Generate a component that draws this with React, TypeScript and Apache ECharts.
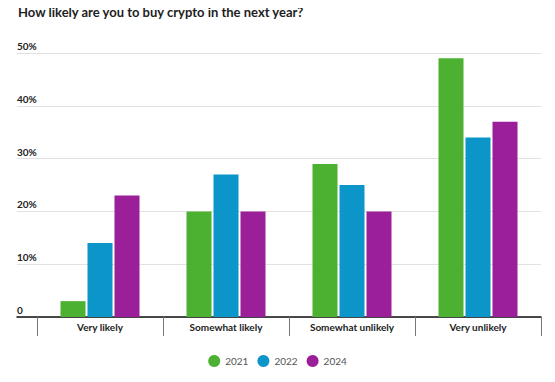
import React, { useEffect, useRef } from "react";
import * as echarts from "echarts";

const categories = ["Very likely", "Somewhat likely", "Somewhat unlikely", "Very unlikely"];
const seriesNames = ["2021", "2022", "2024"];
const values2021 = [3, 20, 29, 49];
const values2022 = [14, 27, 25, 34];
const values2024 = [23, 20, 20, 37];
const colors = ["#4cb130", "#0b95c9", "#9b1f98"];
const yTicks = [0, 10, 20, 30, 40, 50];

const FONT = "Lato, 'Noto Sans', sans-serif";

export default function App() {
  const ref = useRef<HTMLDivElement>(null);
  useEffect(() => {
    if (!ref.current) return;
    const chart = echarts.init(ref.current, undefined, { renderer: "svg" });
    const data = [values2021, values2022, values2024];
    chart.setOption({
      animation: false,
      textStyle: { fontFamily: FONT },
      title: {
        text: "How likely are you to buy crypto in the next year?",
        left: 13,
        top: 0,
        textStyle: { fontSize: 13, fontWeight: "bold", color: "#1e1e1e", fontFamily: FONT },
      },
      legend: {
        data: seriesNames,
        bottom: 10,
        left: "center",
        icon: "circle",
        itemWidth: 12,
        itemHeight: 12,
        itemGap: 9,
        textStyle: { fontSize: 10, color: "#555", fontFamily: FONT },
      },
      grid: [
        { left: 17, right: 14, top: 53, bottom: 65 },
        { left: 37, right: 14, top: 53, bottom: 65 },
      ],
      xAxis: [
        {
          type: "value",
          gridIndex: 0,
          min: 0,
          max: 1,
          axisLine: { show: true, onZero: false, lineStyle: { color: "#111", width: 1.5 } },
          axisTick: { show: false },
          axisLabel: { show: false },
          splitLine: { show: false },
        },
        {
          type: "category",
          gridIndex: 1,
          data: categories,
          axisLine: { show: false },
          axisTick: { show: true, length: 19, lineStyle: { color: "#777", width: 1 } },
          axisLabel: { fontSize: 10, fontWeight: "bold", color: "#222", margin: 5, fontFamily: FONT },
        },
      ],
      yAxis: [
        {
          type: "value",
          gridIndex: 0,
          min: yTicks[0],
          max: yTicks[yTicks.length - 1],
          interval: 10,
          axisLine: { show: false },
          axisTick: { show: false },
          splitLine: { lineStyle: { color: "#e2e2e2", width: 1 } },
          axisLabel: {
            inside: true,
            margin: 0,
            align: "left",
            verticalAlign: "bottom",
            padding: [0, 0, 2, 0],
            fontSize: 10,
            fontWeight: "bold",
            color: "#222",
            fontFamily: FONT,
            formatter: (v: number) => (v === 0 ? "0" : v + "%"),
          },
        },
        {
          type: "value",
          gridIndex: 1,
          min: yTicks[0],
          max: yTicks[yTicks.length - 1],
          show: false,
          splitLine: { show: false },
        },
      ],
      series: seriesNames.map((name, i) => ({
        name,
        type: "bar",
        xAxisIndex: 1,
        yAxisIndex: 1,
        data: data[i],
        barWidth: 25,
        barGap: "8%",
        itemStyle: { color: colors[i] },
      })),
    });
    return () => chart.dispose();
  }, []);
  return <div ref={ref} style={{ width: 555, height: 382, margin: -8 }} />;
}
